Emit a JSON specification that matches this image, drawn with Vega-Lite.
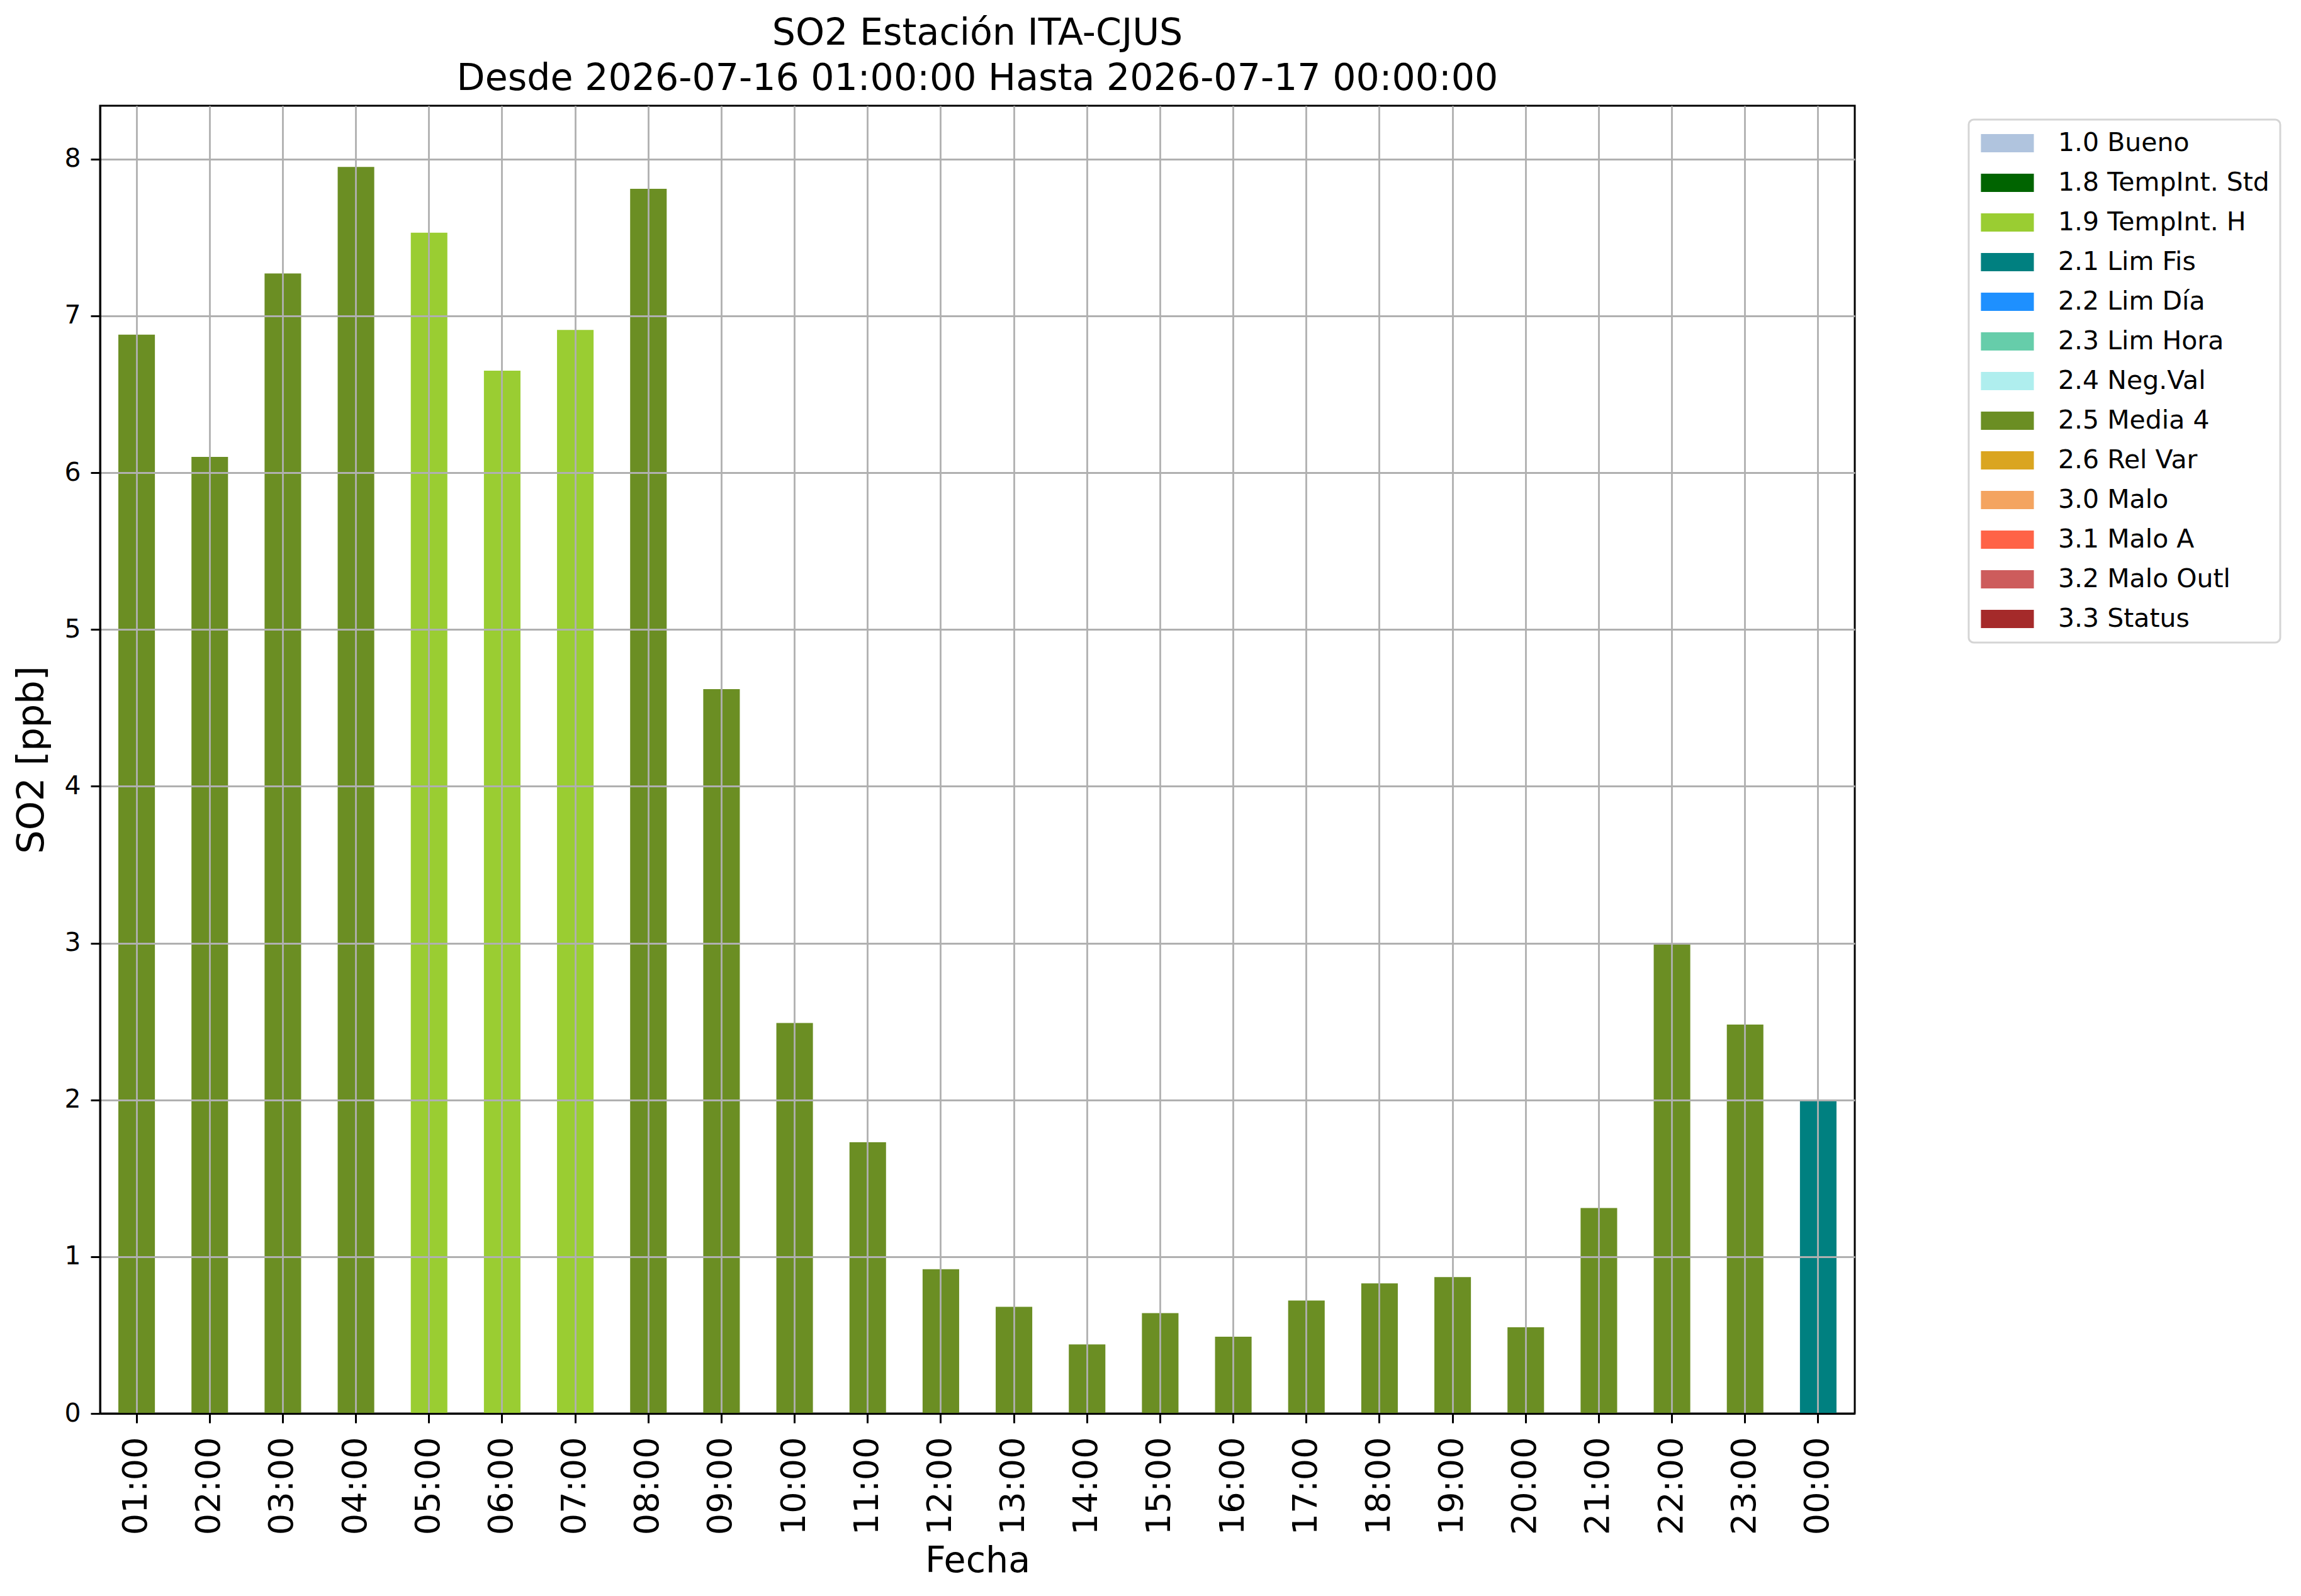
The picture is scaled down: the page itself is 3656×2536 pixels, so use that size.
{
  "$schema": "https://vega.github.io/schema/vega-lite/v6.json",
  "autosize": {"type": "none"},
  "padding": {"left": 159, "top": 168, "right": 709, "bottom": 290},
  "width": 2788,
  "height": 2078,
  "background": "white",
  "title": {
    "text": ["SO2 Estación ITA-CJUS", "Desde 2026-07-16 01:00:00 Hasta 2026-07-17 00:00:00"],
    "font": "DejaVu Sans",
    "fontSize": 58.6,
    "fontWeight": "normal",
    "color": "black",
    "lineHeight": 72,
    "anchor": "middle",
    "offset": 12
  },
  "data": {
    "values": [
      {"hora": "01:00", "valor": 6.88, "flag": "2.5 Media 4"},
      {"hora": "02:00", "valor": 6.10, "flag": "2.5 Media 4"},
      {"hora": "03:00", "valor": 7.27, "flag": "2.5 Media 4"},
      {"hora": "04:00", "valor": 7.95, "flag": "2.5 Media 4"},
      {"hora": "05:00", "valor": 7.53, "flag": "1.9 TempInt. H"},
      {"hora": "06:00", "valor": 6.65, "flag": "1.9 TempInt. H"},
      {"hora": "07:00", "valor": 6.91, "flag": "1.9 TempInt. H"},
      {"hora": "08:00", "valor": 7.81, "flag": "2.5 Media 4"},
      {"hora": "09:00", "valor": 4.62, "flag": "2.5 Media 4"},
      {"hora": "10:00", "valor": 2.49, "flag": "2.5 Media 4"},
      {"hora": "11:00", "valor": 1.73, "flag": "2.5 Media 4"},
      {"hora": "12:00", "valor": 0.92, "flag": "2.5 Media 4"},
      {"hora": "13:00", "valor": 0.68, "flag": "2.5 Media 4"},
      {"hora": "14:00", "valor": 0.44, "flag": "2.5 Media 4"},
      {"hora": "15:00", "valor": 0.64, "flag": "2.5 Media 4"},
      {"hora": "16:00", "valor": 0.49, "flag": "2.5 Media 4"},
      {"hora": "17:00", "valor": 0.72, "flag": "2.5 Media 4"},
      {"hora": "18:00", "valor": 0.83, "flag": "2.5 Media 4"},
      {"hora": "19:00", "valor": 0.87, "flag": "2.5 Media 4"},
      {"hora": "20:00", "valor": 0.55, "flag": "2.5 Media 4"},
      {"hora": "21:00", "valor": 1.31, "flag": "2.5 Media 4"},
      {"hora": "22:00", "valor": 3.00, "flag": "2.5 Media 4"},
      {"hora": "23:00", "valor": 2.48, "flag": "2.5 Media 4"},
      {"hora": "00:00", "valor": 2.00, "flag": "2.1 Lim Fis"}
    ]
  },
  "mark": {"type": "bar"},
  "encoding": {
    "x": {
      "field": "hora",
      "type": "ordinal",
      "sort": null,
      "title": "Fecha",
      "scale": {"paddingInner": 0.5, "paddingOuter": 0.25},
      "axis": {
        "labelAngle": -90,
        "labelFontSize": 54,
        "labelPadding": 22,
        "titleFontSize": 57,
        "titlePadding": 14,
        "grid": true,
        "bandPosition": 0.5,
        "zindex": 1
      }
    },
    "y": {
      "field": "valor",
      "type": "quantitative",
      "title": "SO2 [ppb]",
      "scale": {"domain": [0, 8.34], "nice": false, "zero": true},
      "axis": {
        "values": [0, 1, 2, 3, 4, 5, 6, 7, 8],
        "labelFontSize": 41,
        "labelPadding": 16,
        "titleFontSize": 59,
        "titlePadding": 21,
        "grid": true,
        "zindex": 1
      }
    },
    "color": {
      "field": "flag",
      "type": "nominal",
      "scale": {
        "domain": ["1.0 Bueno", "1.8 TempInt. Std", "1.9 TempInt. H", "2.1 Lim Fis", "2.2 Lim Día", "2.3 Lim Hora", "2.4 Neg.Val", "2.5 Media 4", "2.6 Rel Var", "3.0 Malo", "3.1 Malo A", "3.2 Malo Outl", "3.3 Status"],
        "range": ["#B0C4DE", "#006400", "#9ACD32", "#008080", "#1E90FF", "#66CDAA", "#AFEEEE", "#6B8E23", "#DAA520", "#F4A460", "#FF6347", "#CD5C5C", "#A52A2A"]
      },
      "legend": {
        "title": null,
        "orient": "none",
        "legendX": 2969,
        "legendY": 22,
        "symbolType": "M-2.9,-1H2.9V1H-2.9Z",
        "symbolSize": 841,
        "symbolOffset": 24,
        "symbolStrokeWidth": 0,
        "symbolOpacity": 1,
        "labelFontSize": 41,
        "labelOffset": 60,
        "labelLimit": 0,
        "rowPadding": 21,
        "padding": 17,
        "strokeColor": "#d5d5d5",
        "cornerRadius": 8,
        "fillColor": "white",
        "encode": {"legend": {"update": {"strokeWidth": {"value": 3}}}}
      }
    }
  },
  "config": {
    "font": "DejaVu Sans",
    "view": {"stroke": "black", "strokeWidth": 3},
    "axis": {
      "labelFont": "DejaVu Sans",
      "titleFont": "DejaVu Sans",
      "labelColor": "black",
      "titleColor": "black",
      "titleFontWeight": "normal",
      "domainColor": "black",
      "domainWidth": 3,
      "tickColor": "black",
      "tickWidth": 3,
      "tickSize": 15,
      "gridColor": "#b0b0b0",
      "gridWidth": 2.8,
      "gridOpacity": 1
    },
    "legend": {
      "labelFont": "DejaVu Sans",
      "labelColor": "black"
    }
  }
}
